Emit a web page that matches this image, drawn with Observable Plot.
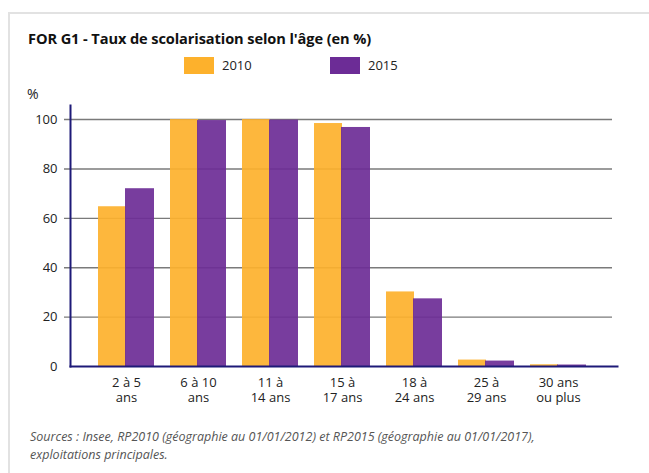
<!DOCTYPE html>
<html>
<head>
<meta charset="utf-8">
<script src="https://cdn.jsdelivr.net/npm/d3@7"></script>
<script src="https://cdn.jsdelivr.net/npm/@observablehq/plot@0.6"></script>
<style>
  html, body { margin: 0; padding: 0; background: #fff; width: 649px; height: 473px; overflow: hidden; font-family: "Open Sans", sans-serif; color: #222; }
  #card { position: absolute; left: 8px; top: 12px; width: 660px; height: 480px; border-left: 2px solid #e2e2e2; border-top: 2px solid #e2e2e2; }
  #title { position: absolute; left: 28px; top: 28px; font-size: 14.6px; font-weight: 700; color: #111; white-space: nowrap; letter-spacing: -0.1px; }
  .sw { position: absolute; top: 57px; width: 30px; height: 17px; }
  .lg { position: absolute; top: 56px; font-size: 13px; color: #222; }
  #pct { position: absolute; left: 27px; top: 84px; font-size: 14px; color: #222; }
  #chart { position: absolute; left: 0; top: 100px; }
  #caption { position: absolute; left: 30px; top: 428px; font-size: 12.5px; font-style: italic; color: #555; line-height: 18px; white-space: nowrap; }
</style>
</head>
<body>
<div id="card"></div>
<div id="title">FOR G1 - Taux de scolarisation selon l'âge (en %)</div>
<div id="legend"></div>
<div id="pct">%</div>
<div id="chart"></div>
<div id="caption">Sources : Insee, RP2010 (géographie au 01/01/2012) et RP2015 (géographie au 01/01/2017),<br>exploitations principales.</div>
<script>
const categories = ["2 à 5\nans", "6 à 10\nans", "11 à\n14 ans", "15 à\n17 ans", "18 à\n24 ans", "25 à\n29 ans", "30 ans\nou plus"];
const values2010 = [64.7, 100, 100, 98.4, 30.2, 2.6, 0.7];
const values2015 = [72.0, 99.6, 99.8, 96.8, 27.4, 2.2, 0.6];
const seriesNames = ["2010", "2015"];
const seriesColors = ["#fdb12c", "#6c2c96"];
const yTicks = [0, 20, 40, 60, 80, 100];

// legend
const legend = document.getElementById("legend");
const legendX = [184, 330];
seriesNames.forEach((name, i) => {
  const sw = document.createElement("div");
  sw.className = "sw"; sw.style.left = legendX[i] + "px"; sw.style.background = seriesColors[i];
  legend.appendChild(sw);
  const t = document.createElement("div");
  t.className = "lg"; t.style.left = (legendX[i] + 38) + "px"; t.textContent = name;
  legend.appendChild(t);
});

const d2010 = categories.map((c, i) => ({cat: c, v: values2010[i]}));
const d2015 = categories.map((c, i) => ({cat: c, v: values2015[i]}));

const chart = Plot.plot({
  width: 649,
  height: 310,
  marginLeft: 70,
  marginRight: 32,
  marginTop: 5,
  marginBottom: 44,
  style: {fontFamily: "Open Sans, sans-serif", fontSize: "13px", color: "#222", background: "transparent"},
  x: {domain: categories, range: [90, 594], paddingInner: 16/72, paddingOuter: 8/72, label: null},
  y: {domain: [0, 105.7], label: null},
  marks: [
    Plot.ruleY(yTicks.filter(d => d > 0), {stroke: "#7a7a7a", strokeWidth: 1.4, insetRight: 5, insetLeft: -6}),
    Plot.barY(d2010, {x: "cat", y: "v", fill: seriesColors[0], fillOpacity: 0.92, insetRight: 28}),
    Plot.barY(d2015, {x: "cat", y: "v", fill: seriesColors[1], fillOpacity: 0.92, insetLeft: 27}),
    Plot.axisY({ticks: yTicks, tickSize: 0, tickPadding: 13, fontSize: 13, label: null}),
    Plot.axisX({tickSize: 0, tickPadding: 10, fontSize: 13, lineHeight: 1.15, label: null}),
    Plot.frame({anchor: "left", stroke: "#1e1a78", strokeWidth: 2}),
    Plot.frame({anchor: "bottom", stroke: "#1e1a78", strokeWidth: 2})
  ]
});
document.getElementById("chart").appendChild(chart);
</script>
</body>
</html>
